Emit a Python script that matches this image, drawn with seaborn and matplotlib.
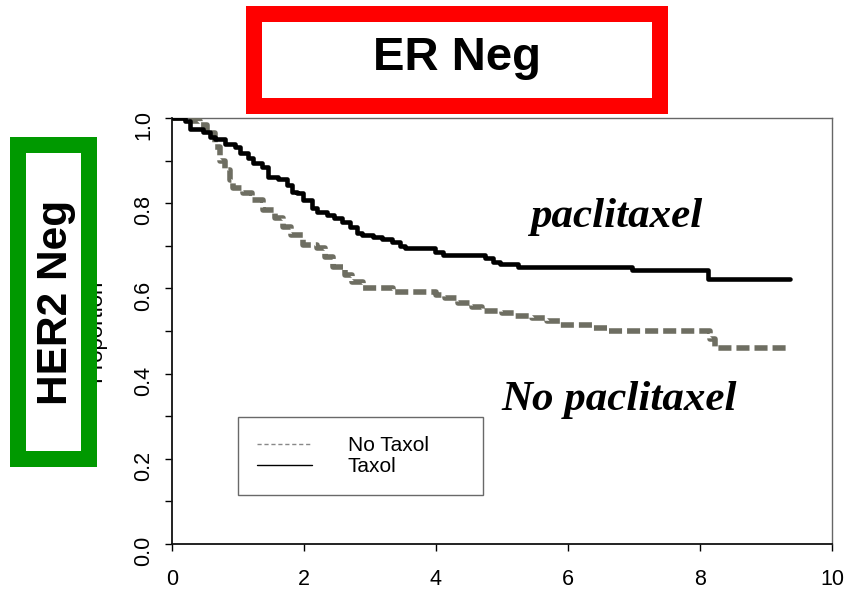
import matplotlib
matplotlib.use("Agg")
import matplotlib.pyplot as plt
from matplotlib.patches import Rectangle
from matplotlib.lines import Line2D
import pandas as pd
import seaborn as sns

# Kaplan-Meier estimates (years, proportion event-free), ER-negative / HER2-negative subset
taxol_time = [0.0, 0.2, 0.27, 0.47, 0.58, 0.65, 0.8, 0.95, 1.03, 1.15, 1.23, 1.36, 1.45,
              1.6, 1.74, 1.82, 1.9, 1.98, 2.12, 2.2, 2.35, 2.45, 2.57, 2.7, 2.8, 2.88,
              3.05, 3.18, 3.33, 3.45, 3.53, 3.98, 4.1, 4.74, 4.86, 4.97, 5.24, 6.97,
              8.12, 9.36]
taxol_surv = [1.0, 0.993, 0.974, 0.967, 0.955, 0.95, 0.94, 0.932, 0.918, 0.906, 0.894,
              0.885, 0.862, 0.857, 0.843, 0.826, 0.824, 0.808, 0.789, 0.78, 0.772, 0.765,
              0.756, 0.744, 0.73, 0.725, 0.72, 0.716, 0.709, 0.70, 0.695, 0.686, 0.678,
              0.671, 0.662, 0.657, 0.65, 0.643, 0.622, 0.622]

notaxol_time = [0.0, 0.3, 0.42, 0.53, 0.65, 0.73, 0.8, 0.88, 0.93, 1.08, 1.21, 1.38,
                1.56, 1.68, 1.81, 1.99, 2.2, 2.32, 2.44, 2.62, 2.73, 2.9, 3.35, 4.0,
                4.14, 4.33, 4.55, 4.7, 5.0, 5.2, 5.45, 5.68, 5.88, 6.38, 6.59, 8.15,
                8.23, 9.33]
notaxol_surv = [1.0, 0.993, 0.984, 0.965, 0.932, 0.90, 0.878, 0.854, 0.835, 0.823,
                0.808, 0.784, 0.765, 0.744, 0.725, 0.702, 0.695, 0.674, 0.65, 0.631,
                0.615, 0.601, 0.592, 0.585, 0.577, 0.566, 0.556, 0.547, 0.542, 0.535,
                0.531, 0.524, 0.514, 0.507, 0.50, 0.481, 0.46, 0.46]

arm_labels = ["No Taxol", "Taxol"]
x_ticks = [0, 2, 4, 6, 8, 10]
y_ticks = [0.0, 0.2, 0.4, 0.6, 0.8, 1.0]
y_minor = [0.1, 0.3, 0.5, 0.7, 0.9]

sns.set_style("white")
plt.rcParams["font.family"] = ["Liberation Sans", "DejaVu Sans"]
plt.rcParams.update({"text.color": "black", "axes.labelcolor": "black",
                     "xtick.color": "black", "ytick.color": "black"})

W, H = 848, 595
fig = plt.figure(figsize=(W / 100, H / 100), dpi=100)
ax = fig.add_axes([172 / W, 1 - 544 / H, 660 / W, 426 / H])

df = pd.DataFrame({
    "time": taxol_time + notaxol_time,
    "proportion": taxol_surv + notaxol_surv,
    "arm": ["Taxol"] * len(taxol_time) + ["No Taxol"] * len(notaxol_time),
})

gray = "#6e6e62"
sns.lineplot(data=df[df["arm"] == "No Taxol"], x="time", y="proportion",
             estimator=None, color=gray, lw=4.0, linestyle=(0, (2.35, 0.9)),
             drawstyle="steps-post", ax=ax, legend=False, zorder=3)
sns.lineplot(data=df[df["arm"] == "Taxol"], x="time", y="proportion",
             estimator=None, color="black", lw=3.3,
             drawstyle="steps-post", ax=ax, legend=False, zorder=4)

ax.set_xlim(0, 10)
ax.set_ylim(0, 1)
ax.set_xticks(x_ticks)
ax.set_xticklabels([str(t) for t in x_ticks])
ax.set_yticks(y_ticks)
ax.set_yticklabels([f"{v:.1f}" for v in y_ticks])
ax.set_yticks(y_minor, minor=True)
ax.tick_params(axis="both", which="both", direction="out", length=5, width=1,
               color="black", labelsize=15.5, left=True, bottom=True)
ax.tick_params(axis="x", pad=13)
ax.tick_params(axis="y", labelrotation=90, pad=8)
ax.set_xlabel("")
ax.set_ylabel("Proportion", fontsize=16)
ax.yaxis.set_label_coords(-0.1, 0.5)
ax.grid(False)

for side in ("left", "bottom"):
    ax.spines[side].set_color("#111111")
    ax.spines[side].set_linewidth(1.3)
for side in ("top", "right"):
    ax.spines[side].set_color("#666666")
    ax.spines[side].set_linewidth(1.0)

# legend with thin sample lines
handles = [Line2D([], [], color="#888888", lw=1, linestyle=(0, (3, 2))),
           Line2D([], [], color="black", lw=1)]
leg = ax.legend(handles, arm_labels, loc="upper left",
                bbox_to_anchor=(0.1, 0.122, 0.371, 0.176), mode="expand",
                borderaxespad=0, fontsize=15, frameon=True, fancybox=False,
                edgecolor="#444444", labelspacing=0.1, borderpad=0.9,
                handlelength=2.64, handletextpad=1.73)
leg.get_frame().set_linewidth(1.0)

# curve annotations
ax.text(5.43, 0.744, "paclitaxel", fontsize=31, fontweight="bold", fontstyle="italic",
        family=["Liberation Serif", "DejaVu Serif"], ha="left", va="baseline")
ax.text(4.99, 0.315, "No paclitaxel", fontsize=31, fontweight="bold", fontstyle="italic",
        family=["Liberation Serif", "DejaVu Serif"], ha="left", va="baseline")


def framed_label(x0, y0, x1, y1, border, color, text, size, rotation, tx, ty):
    """Coloured frame with white interior, given in pixels from the top-left corner."""
    fig.patches.append(Rectangle((x0 / W, 1 - y1 / H), (x1 - x0) / W, (y1 - y0) / H,
                                 transform=fig.transFigure, facecolor=color,
                                 edgecolor="none", zorder=5))
    fig.patches.append(Rectangle(((x0 + border) / W, 1 - (y1 - border) / H),
                                 (x1 - x0 - 2 * border) / W, (y1 - y0 - 2 * border) / H,
                                 transform=fig.transFigure, facecolor="white",
                                 edgecolor="none", zorder=6))
    fig.text(tx / W, 1 - ty / H, text, fontsize=size, fontweight="bold",
             rotation=rotation, ha="center", va="center", zorder=7)


framed_label(246, 6, 668, 114, 16, "#ff0000", "ER Neg", 34, 0, 457, 58)
framed_label(10, 137, 97, 467, 16, "#009900", "HER2 Neg", 30.5, 90, 56, 302)

fig.savefig("out.png", dpi=100)
